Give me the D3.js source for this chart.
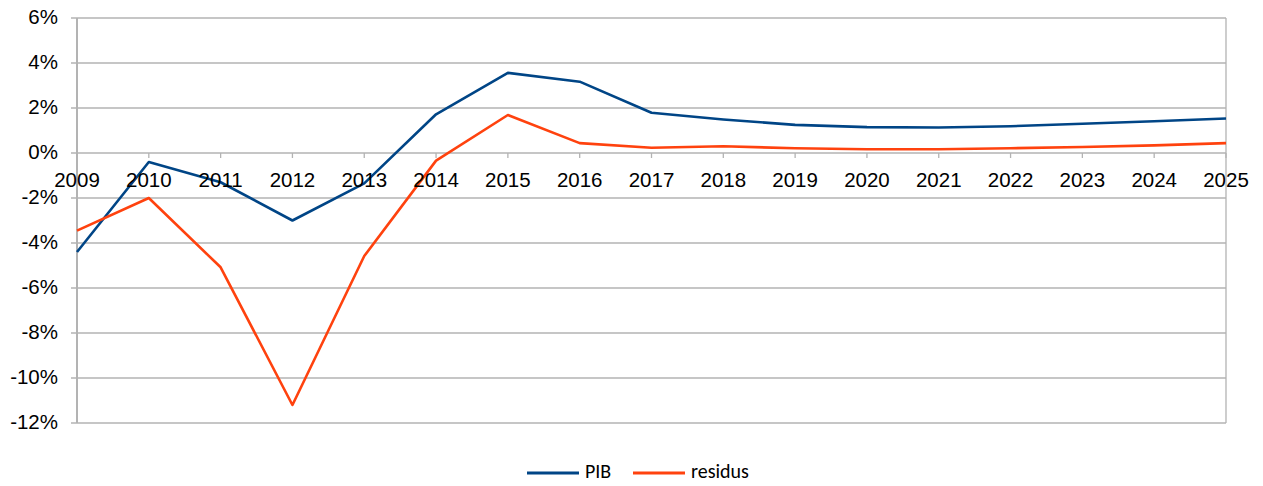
<!DOCTYPE html>
<html>
<head>
<meta charset="utf-8">
<script src="https://cdn.jsdelivr.net/npm/d3@7"></script>
<style>
  body { margin: 0; background: #fff; }
  svg { display: block; }
</style>
</head>
<body>
<div id="chart"></div>
<script>
const years = [2009, 2010, 2011, 2012, 2013, 2014, 2015, 2016, 2017, 2018, 2019, 2020, 2021, 2022, 2023, 2024, 2025];
const pib = [-4.4, -0.4, -1.3, -3.0, -1.35, 1.72, 3.56, 3.17, 1.79, 1.49, 1.25, 1.15, 1.13, 1.19, 1.3, 1.41, 1.53];
const residus = [-3.45, -2.0, -5.08, -11.2, -4.58, -0.34, 1.69, 0.44, 0.23, 0.3, 0.21, 0.17, 0.17, 0.21, 0.27, 0.34, 0.44];
const yTicks = [6, 4, 2, 0, -2, -4, -6, -8, -10, -12];

const width = 1263, height = 486;
const margin = { top: 18, right: 37, bottom: 63, left: 77 };

const svg = d3.select("#chart")
  .append("svg")
  .attr("width", width)
  .attr("height", height);

const xScale = d3.scaleLinear()
  .domain([2009, 2025])
  .range([margin.left, width - margin.right]);

const yScale = d3.scaleLinear()
  .domain([-12, 6])
  .range([height - margin.bottom, margin.top]);

// gridlines
svg.append("g")
  .selectAll("line")
  .data(yTicks)
  .join("line")
  .attr("x1", margin.left - 6)
  .attr("x2", width - margin.right)
  .attr("y1", d => yScale(d))
  .attr("y2", d => yScale(d))
  .attr("stroke", "#b3b3b3")
  .attr("stroke-width", 1.3);

// right border
svg.append("line")
  .attr("x1", width - margin.right)
  .attr("x2", width - margin.right)
  .attr("y1", margin.top)
  .attr("y2", height - margin.bottom)
  .attr("stroke", "#b3b3b3")
  .attr("stroke-width", 1.3);

// y axis line
svg.append("line")
  .attr("x1", margin.left)
  .attr("x2", margin.left)
  .attr("y1", margin.top)
  .attr("y2", height - margin.bottom)
  .attr("stroke", "#b3b3b3")
  .attr("stroke-width", 2);

// y labels
svg.append("g")
  .selectAll("text")
  .data(yTicks)
  .join("text")
  .attr("x", 58)
  .attr("y", d => yScale(d) + 1)
  .attr("text-anchor", "end")
  .attr("dominant-baseline", "middle")
  .style("font-family", "'Liberation Sans', Arial, sans-serif")
  .style("font-size", "20.5px")
  .attr("fill", "#000")
  .text(d => d + "%");

// x axis at 0% with ticks
svg.append("g")
  .selectAll("line")
  .data(years)
  .join("line")
  .attr("x1", d => xScale(d))
  .attr("x2", d => xScale(d))
  .attr("y1", yScale(0))
  .attr("y2", yScale(0) + 5)
  .attr("stroke", "#b3b3b3")
  .attr("stroke-width", 1.3);

const line = d3.line()
  .x((d, i) => xScale(years[i]))
  .y(d => yScale(d));

svg.append("path")
  .datum(pib)
  .attr("d", line)
  .attr("fill", "none")
  .attr("stroke", "#004586")
  .attr("stroke-width", 2.6)
  .attr("stroke-linejoin", "round");

svg.append("path")
  .datum(residus)
  .attr("d", line)
  .attr("fill", "none")
  .attr("stroke", "#ff420e")
  .attr("stroke-width", 2.6)
  .attr("stroke-linejoin", "round");

// x labels (drawn over lines)
svg.append("g")
  .selectAll("text")
  .data(years)
  .join("text")
  .attr("x", d => xScale(d))
  .attr("y", 187)
  .attr("text-anchor", "middle")
  .style("font-family", "'Liberation Sans', Arial, sans-serif")
  .style("font-size", "20.5px")
  .attr("fill", "#000")
  .text(d => d);

// legend
const legend = [
  { name: "PIB", color: "#004586", x: 527 },
  { name: "residus", color: "#ff420e", x: 633 }
];
const lg = svg.append("g")
  .selectAll("g")
  .data(legend)
  .join("g")
  .attr("transform", d => `translate(${d.x}, 473)`);

lg.append("line")
  .attr("x1", 0)
  .attr("x2", 52)
  .attr("stroke", d => d.color)
  .attr("stroke-width", 3);

lg.append("text")
  .attr("x", 58)
  .attr("dominant-baseline", "middle")
  .style("font-family", "Carlito, Lato, 'Open Sans', sans-serif")
  .style("font-size", "20px")
  .attr("fill", "#000")
  .text(d => d.name);
</script>
</body>
</html>
